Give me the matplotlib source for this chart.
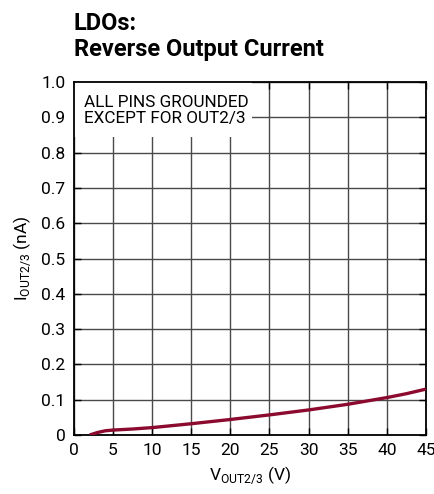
import matplotlib
matplotlib.use("Agg")
import matplotlib.pyplot as plt
from matplotlib.patches import Rectangle

# curve
v_out = [2.0, 3.0, 4.0, 5.0, 7.5, 10, 15, 20, 25, 30, 35, 40, 42.5, 45]
i_out = [0.0, 0.007, 0.012, 0.014, 0.017, 0.021, 0.032, 0.044, 0.057, 0.071, 0.087, 0.106, 0.117, 0.13]

x_ticks = [0, 5, 10, 15, 20, 25, 30, 35, 40, 45]
y_ticks = [0, 0.1, 0.2, 0.3, 0.4, 0.5, 0.6, 0.7, 0.8, 0.9, 1.0]
y_tick_labels = ["0", "0.1", "0.2", "0.3", "0.4", "0.5", "0.6", "0.7", "0.8", "0.9", "1.0"]

plt.rcParams["font.family"] = ["Roboto", "DejaVu Sans"]
plt.rcParams["mathtext.fontset"] = "custom"
plt.rcParams["mathtext.rm"] = "Roboto"

fig = plt.figure(figsize=(4.35, 4.94), dpi=100)
ax = fig.add_axes([0.170, 0.1194, 0.809, 0.7146])

ax.set_xlim(0, 45)
ax.set_ylim(0, 1.0)
ax.set_xticks(x_ticks)
ax.set_yticks(y_ticks)
ax.set_yticklabels(y_tick_labels)
ax.grid(True, color="#4a4a4a", linewidth=1.0)
ax.set_axisbelow(True)
for s in ax.spines.values():
    s.set_linewidth(1.3)
    s.set_color("black")
ax.tick_params(direction="in", length=5, width=1.0, labelsize=12.5,
               top=True, right=True, pad=6)

ax.plot(v_out, i_out, color="#8B0A2E", linewidth=2.4, solid_capstyle="butt", zorder=3)

# white box behind the note
ax.add_patch(Rectangle((0, 0.845), 22.8, 0.155, facecolor="white",
                       edgecolor="none", zorder=1.5))
ax.text(1.3, 0.962, "ALL PINS GROUNDED\nEXCEPT FOR OUT2/3", fontsize=12.3,
        va="top", ha="left", linespacing=1.05, zorder=4)

ax.set_xlabel(r"V$_{\mathregular{OUT2/3}}$ (V)", fontsize=12.5, labelpad=4)
ax.set_ylabel(r"I$_{\mathregular{OUT2/3}}$ (nA)", fontsize=12.5, labelpad=6)

fig.text(0.170, 0.975, "LDOs:\nReverse Output Current", fontsize=17,
         fontweight="bold", va="top", ha="left", linespacing=1.15)

fig.savefig("out.png", dpi=100)
